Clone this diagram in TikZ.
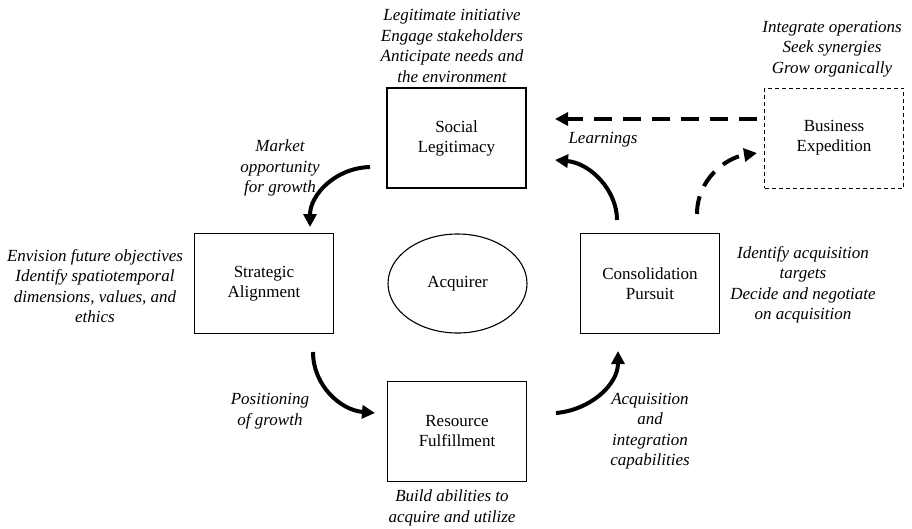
\documentclass[tikz,border=0pt]{standalone}
\usepackage{fontspec}
\setmainfont{Liberation Serif}
\usetikzlibrary{arrows.meta,shapes.geometric}
\begin{document}
\begin{tikzpicture}[x=1pt,y=-1pt,
  stage/.style={draw,line width=1.1pt,minimum width=139pt,minimum height=100pt,
    align=center,inner sep=0pt,font=\fontsize{17}{20}\selectfont},
  scout/.style={stage,line width=0.9pt,dash pattern=on 4pt off 3pt},
  core/.style={ellipse,draw,line width=1.1pt,minimum width=139pt,minimum height=99pt,
    inner sep=0pt,font=\fontsize{17}{20}\selectfont},
  note/.style={align=center,inner sep=0pt,font=\fontsize{17}{20.5}\selectfont\itshape},
  flow/.style={line width=4pt,-{Triangle[length=13pt,width=13pt]}},
  dflow/.style={flow,dash pattern=on 18pt off 11pt}]
\useasboundingbox (0,0) rectangle (912,528);

% stages of the cycle
\node[stage] (soc) at (456.5,138) {Social\\Legitimacy};
\node[stage] (str) at (264,283.5) {Strategic\\Alignment};
\node[core]  (acq) at (457.5,283.5) {Acquirer};
\node[stage] (con) at (650,283.5) {Consolidation\\Pursuit};
\node[stage] (res) at (457,431.5) {Resource\\Fulfillment};
\node[scout] (bus) at (834,138) {Business\\Expedition};

% activities attached to each stage
\node[note] (socN) at (452,46) {Legitimate initiative\\Engage stakeholders\\Anticipate needs and\\the environment};
\node[note] (busN) at (832,49) {Integrate operations\\Seek synergies\\Grow organically};
\node[note] (strN) at (95,286) {Envision future objectives\\Identify spatiotemporal\\dimensions, values, and\\ethics};
\node[note] (conN) at (803,285) {Identify acquisition\\targets\\Decide and negotiate\\on acquisition};
\node[note] (resN) at (452,508) {Build abilities to\\acquire and utilize};

% transition labels
\node[note] (mkt) at (280,168) {Market\\opportunity\\for growth};
\node[note] (pos) at (270,411) {Positioning\\of growth};
\node[note] (aic) at (650,431) {Acquisition\\and\\integration\\capabilities};
\node[note] (lrn) at (603,140) {Learnings};

% arrow end points
\coordinate (m1) at (370,167);  \coordinate (m2) at (310,227);
\coordinate (p1) at (313,352);  \coordinate (p2) at (375,413);
\coordinate (a1) at (556,413);  \coordinate (a2) at (618,351);
\coordinate (l1) at (617,220);  \coordinate (l2) at (555,160);
\coordinate (d1) at (757,119);  \coordinate (d2) at (555,119);
\coordinate (c1) at (697,214);  \coordinate (c2) at (757,153);

% cycle arrows
\draw[flow] (m1) .. controls (335,168) and (310,195) .. (m2);
\draw[flow] (p1) .. controls (313,385) and (340,410) .. (p2);
\draw[flow] (a1) .. controls (590,410) and (618,385) .. (a2);
\draw[flow] (l1) .. controls (617,190) and (590,163) .. (l2);

% expedition loop
\draw[dflow] (d1) -- (d2);
\draw[dflow] (c1) .. controls (697,180) and (725,158) .. (c2);
\end{tikzpicture}
\end{document}
